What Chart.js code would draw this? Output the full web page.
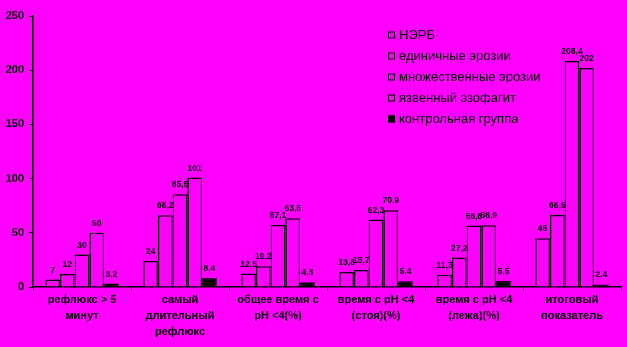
<!DOCTYPE html>
<html>
<head>
<meta charset="utf-8">
<script src="https://cdn.jsdelivr.net/npm/chart.js@4/dist/chart.umd.min.js"></script>
<style>
html,body{margin:0;padding:0;background:#FF00FF;}
#wrap{width:627px;height:347px;position:relative;}
</style>
</head>
<body>
<div id="wrap"><canvas id="c" width="627" height="347"></canvas></div>
<script>
const categories = [
  ["рефлюкс > 5", "минут"],
  ["самый", "длительный", "рефлюкс"],
  ["общее время с", "pH <4(%)"],
  ["время с pH <4", "(стоя)(%)"],
  ["время с pH <4", "(лежа)(%)"],
  ["итоговый", "показатель"]
];
const seriesNames = ["НЭРБ", "единичные эрозии", "множественные эрозии", "язвенный эзофагит", "контрольная группа"];
const nerb       = [7, 24, 12.5, 13.8, 11.3, 45];
const single     = [12, 66.2, 19.2, 15.7, 27.2, 66.5];
const multiple   = [30, 85.5, 57.1, 62.3, 56.8, 208.4];
const ulcer      = [50, 101, 63.5, 70.9, 56.9, 202];
const control    = [3.2, 8.4, 4.3, 5.4, 5.5, 2.4];
const yTicks     = [0, 50, 100, 150, 200, 250];

const MAG = '#FF00FF';
const fills = [MAG, MAG, MAG, MAG, '#000000'];
const seriesData = [nerb, single, multiple, ulcer, control];

const datasets = seriesData.map((d, i) => ({
  label: seriesNames[i],
  data: d,
  backgroundColor: fills[i],
  borderColor: '#000000',
  borderWidth: 1.5,
  categoryPercentage: 0.75,
  barPercentage: 1.0
}));

const valueLabels = {
  id: 'valueLabels',
  afterDatasetsDraw(chart) {
    const ctx = chart.ctx;
    ctx.save();
    ctx.font = 'bold 8.5px Arial, "Liberation Sans", sans-serif';
    ctx.fillStyle = '#000';
    ctx.textAlign = 'center';
    ctx.textBaseline = 'bottom';
    chart.data.datasets.forEach((ds, di) => {
      const meta = chart.getDatasetMeta(di);
      meta.data.forEach((bar, i) => {
        const v = ds.data[i];
        ctx.fillText(String(v).replace('.', ','), bar.x, bar.y - 5);
      });
    });
    ctx.restore();
  }
};

const customLegend = {
  id: 'customLegend',
  afterDraw(chart) {
    const ctx = chart.ctx;
    ctx.save();
    ctx.font = '13px Arial, "Liberation Sans", sans-serif';
    ctx.textBaseline = 'middle';
    ctx.textAlign = 'left';
    chart.data.datasets.forEach((ds, i) => {
      const y = 35 + i * 21;
      ctx.fillStyle = ds.backgroundColor;
      ctx.fillRect(388, y - 3.5, 7, 7);
      ctx.strokeStyle = '#000';
      ctx.lineWidth = 1;
      ctx.strokeRect(388.5, y - 3, 6, 6);
      ctx.fillStyle = '#000';
      ctx.fillText(ds.label, 399, y);
    });
    ctx.restore();
  }
};

new Chart(document.getElementById('c'), {
  type: 'bar',
  data: { labels: categories, datasets },
  plugins: [valueLabels, customLegend],
  options: {
    responsive: false,
    animation: false,
    layout: { padding: { left: 0, right: 6, top: 16, bottom: 0 } },
    plugins: { legend: { display: false }, tooltip: { enabled: false } },
    scales: {
      x: {
        offset: true,
        grid: { display: true, offset: true, drawOnChartArea: false, drawTicks: true, tickLength: 4, color: '#000', lineWidth: 1 },
        border: { color: '#000', width: 1.5 },
        ticks: {
          color: '#000',
          font: { family: 'Arial, "Liberation Sans", sans-serif', size: 11, weight: 'bold', lineHeight: 1.45 },
          maxRotation: 0, autoSkip: false, padding: 1
        },
        afterFit(scale) { scale.height = 60; }
      },
      y: {
        min: 0, max: 250,
        afterBuildTicks(scale) { scale.ticks = yTicks.map(v => ({ value: v })); },
        grid: { display: true, drawOnChartArea: false, drawTicks: true, tickLength: 4, color: '#000', lineWidth: 1 },
        border: { color: '#000', width: 1.5 },
        ticks: {
          color: '#000',
          font: { family: 'Arial, "Liberation Sans", sans-serif', size: 11, weight: 'bold' },
          padding: 5
        },
        afterFit(scale) { scale.width = 33; }
      }
    }
  }
});
</script>
</body>
</html>
